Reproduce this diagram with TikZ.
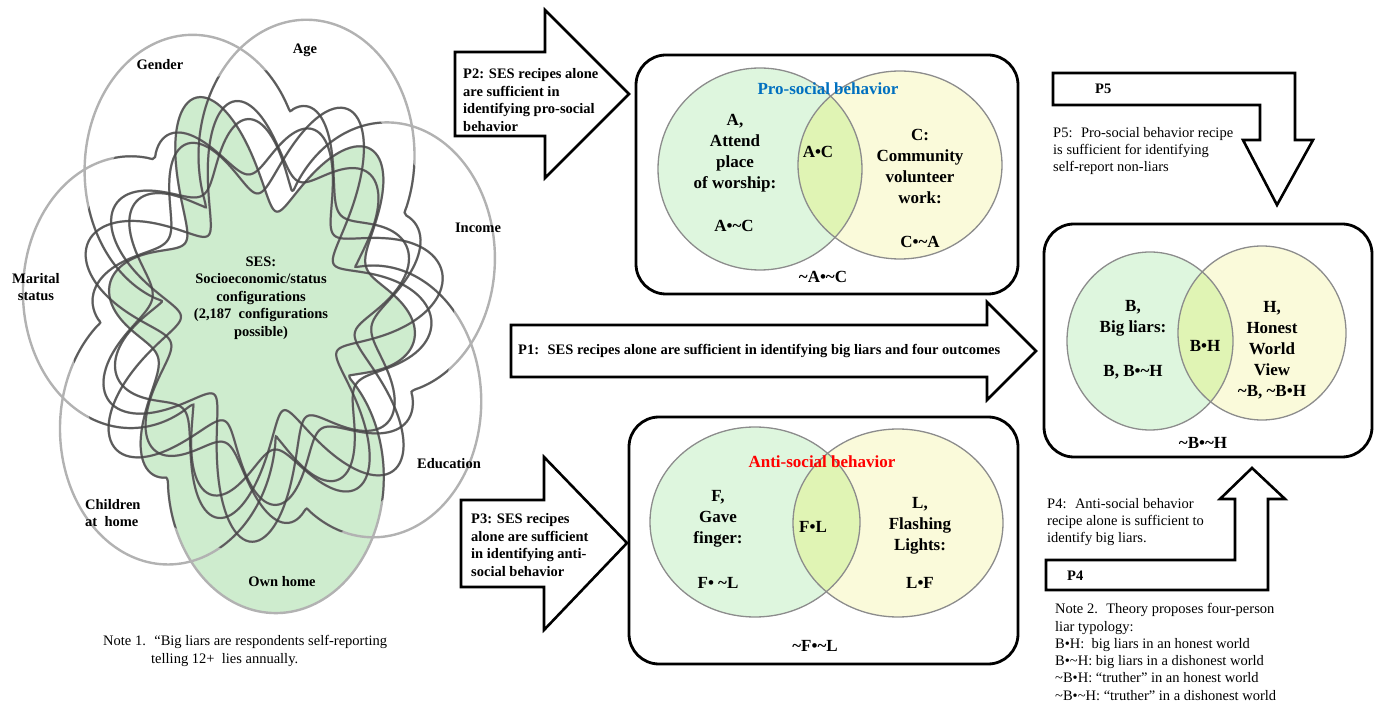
\documentclass[tikz,border=0pt]{standalone}
\usepackage{fontspec}
\setmainfont{Liberation Serif}
\usetikzlibrary{positioning}
\newcommand{\tld}{\textasciitilde}
\definecolor{sesgreen}{RGB}{206,236,206}
\definecolor{vgreen}{RGB}{222,246,222}
\definecolor{vyellow}{RGB}{250,250,218}
\definecolor{vmix}{RGB}{224,244,180}
\definecolor{problue}{RGB}{0,112,192}

\begin{document}
\begin{tikzpicture}[x=1pt, y=-1pt,
  declare function={
    dd(\p,\q)=mod(\p-\q+900,360)-180;
    lobe(\p,\q)=(abs(dd(\p,\q))<55)*(0.55*cos(dd(\p,\q))+sqrt(max(0,0.2025-0.3025*sin(dd(\p,\q))^2)));
    ring(\p,\q)=0.55+0.15*sin(6*dd(\p,\q))+0.07*sin(4*dd(\p,\q));
    vr(\p,\q)=max(ring(\p,\q),lobe(\p,\q));
  },
  lbl/.style={font=\fontsize{14.5}{17.5}\selectfont\bfseries, align=center, inner sep=0pt},
  vlbl/.style={font=\fontsize{17}{21}\selectfont\bfseries, align=center, inner sep=0pt},
  txt/.style={font=\fontsize{14.5}{17.3}\selectfont, align=left, inner sep=0pt, anchor=west},
  blk/.style={draw=black, line width=2.6pt, fill=white, line join=miter},
  panel/.style={draw=black, line width=2.8pt, rounded corners=30pt},
  vline/.style={draw=black!45, line width=1.3pt},
  lobeline/.style={draw=black!30, line width=2.4pt},
  knotline/.style={draw=black!75, line width=2pt, draw opacity=0.75}]
\useasboundingbox (0,0) rectangle (1377,708);

% seven-set SES diagram
\begin{scope}[shift={(262,312)}, x=240pt, y=302pt]
\fill[sesgreen] plot[variable=\t, domain=0:359, samples=360, smooth cycle] ({vr(\t,-84)*cos(\t)}, {vr(\t,-84)*sin(\t)});
\foreach \k in {0,...,6}
  \draw[lobeline] plot[variable=\t, domain=0:359, samples=360, smooth cycle] ({vr(\t,-84+51.43*\k)*cos(\t)}, {vr(\t,-84+51.43*\k)*sin(\t)});
\begin{scope}
\clip (0,0) circle (0.8);
\foreach \k in {0,...,6}
  \draw[knotline] plot[variable=\t, domain=0:359, samples=360, smooth cycle] ({vr(\t,-84+51.43*\k)*cos(\t)}, {vr(\t,-84+51.43*\k)*sin(\t)});
\end{scope}
\end{scope}

\node[lbl] (gender) at (160,65) {Gender};
\node[lbl] (age) at (305,50) {Age};
\node[lbl] (income) at (478,228) {Income};
\node[lbl] (marital) at (36,287) {Marital\\status};
\node[lbl] (educ) at (449,464) {Education};
\node[lbl, align=left, anchor=west] (children) at (85,513) {Children\\at~ home};
\node[lbl] (ownhome) at (282,582) {Own home};
\node[lbl] (ses) at (261,298) {SES:\\Socioeconomic/status\\configurations\\(2,187~ configurations\\possible)};
\node[txt] (note1) at (103,651) {Note 1.~ “Big liars are respondents self-reporting\\\hspace*{48pt}telling 12+~ lies annually.};

% block arrows
\draw[blk] (455,52) -- (545,52) -- (545,10) -- (629,94) -- (545,178) -- (545,136) -- (455,136) -- cycle;
\node[lbl, align=left, anchor=west] (p2) at (463,100) {P2: SES recipes alone\\are sufficient in\\identifying pro-social\\behavior};
\draw[blk] (511,325) -- (987,325) -- (987,302) -- (1036,351) -- (987,400) -- (987,377) -- (511,377) -- cycle;
\node[lbl, anchor=west] (p1) at (518,351) {P1:~ SES recipes alone are sufficient in identifying big liars and four outcomes};
\draw[blk] (461,500) -- (544,500) -- (544,457) -- (627,543) -- (544,630) -- (544,587) -- (461,587) -- cycle;
\node[lbl, align=left, anchor=west] (p3) at (471,545) {P3: SES recipes\\alone are sufficient\\in identifying anti-\\social behavior};
\draw[blk] (1053,73) -- (1295,73) -- (1295,140) -- (1313,140) -- (1277,205) -- (1243,140) -- (1260,140) -- (1260,105) -- (1053,105) -- cycle;
\node[lbl, anchor=west] (p5) at (1095,89) {P5};
\node[txt] (p5txt) at (1053,151) {P5:~ Pro-social behavior recipe\\is sufficient for identifying\\self-report non-liars};
\draw[blk] (1252,468) -- (1285,499) -- (1268,499) -- (1268,590) -- (1046,590) -- (1046,560) -- (1235,560) -- (1235,499) -- (1220,499) -- cycle;
\node[lbl, anchor=west] (p4) at (1067,576) {P4};
\node[txt] (p4txt) at (1047,522) {P4:~ Anti-social behavior\\recipe alone is sufficient to\\identify big liars.};
\node[txt] (note2) at (1055,652) {Note 2.~ Theory proposes four-person\\liar typology:\\B•H:~ big liars in an honest world\\B•\tld H: big liars in a dishonest world\\\tld B•H: “truther” in an honest world\\\tld B•\tld H: “truther” in a dishonest world};

% pro-social panel
\fill[vgreen] (760,169) ellipse [x radius=102, y radius=101];
\fill[vyellow] (900,165) ellipse [x radius=102, y radius=94];
\begin{scope}
\clip (760,169) ellipse [x radius=102, y radius=101];
\fill[vmix] (900,165) ellipse [x radius=102, y radius=94];
\end{scope}
\draw[vline] (760,169) ellipse [x radius=102, y radius=101];
\draw[vline] (900,165) ellipse [x radius=102, y radius=94];
\draw[panel] (636,55) rectangle (1018,294);
\node[vlbl, text=problue] (protitle) at (828,89) {Pro-social behavior};
\node[vlbl] (aset) at (735,153) {A,\\Attend\\place\\of worship:};
\node[vlbl] (anc) at (734,226) {A•\tld C};
\node[vlbl] (ac) at (818,152) {A•C};
\node[vlbl] (cset) at (920,166) {C:\\Community\\volunteer\\work:};
\node[vlbl] (cna) at (920,242) {C•\tld A};
\node[vlbl] (nanc) at (823,277) {\tld A•\tld C};

% anti-social panel
\fill[vgreen] (755,522) ellipse [x radius=105, y radius=95];
\fill[vyellow] (898,523) ellipse [x radius=105, y radius=94];
\begin{scope}
\clip (755,522) ellipse [x radius=105, y radius=95];
\fill[vmix] (898,523) ellipse [x radius=105, y radius=94];
\end{scope}
\draw[vline] (755,522) ellipse [x radius=105, y radius=95];
\draw[vline] (898,523) ellipse [x radius=105, y radius=94];
\draw[panel] (629,417) rectangle (1018,664);
\node[vlbl, text=red] (antititle) at (822,462) {Anti-social behavior};
\node[vlbl] (fset) at (718,519) {F,\\Gave\\finger:};
\node[vlbl] (fnl) at (718,583) {F• \tld L};
\node[vlbl] (fl) at (813,527) {F•L};
\node[vlbl] (lset) at (920,526) {L,\\Flashing\\Lights:};
\node[vlbl] (lf) at (920,583) {L•F};
\node[vlbl] (nfnl) at (815,646) {\tld F•\tld L};

% big liars panel
\fill[vgreen] (1150,341) ellipse [x radius=83, y radius=89];
\fill[vyellow] (1262,333) ellipse [x radius=84, y radius=87];
\begin{scope}
\clip (1150,341) ellipse [x radius=83, y radius=89];
\fill[vmix] (1262,333) ellipse [x radius=84, y radius=87];
\end{scope}
\draw[vline] (1150,341) ellipse [x radius=83, y radius=89];
\draw[vline] (1262,333) ellipse [x radius=84, y radius=87];
\draw[panel] (1044,224) rectangle (1372,457);
\node[vlbl] (bset) at (1133,318) {B,\\Big liars:};
\node[vlbl] (bnh) at (1133,372) {B, B•\tld H};
\node[vlbl] (bh) at (1205,346) {B•H};
\node[vlbl] (hset) at (1272,350) {H,\\Honest\\World\\View\\\tld B, \tld B•H};
\node[vlbl] (nbnh) at (1203,443) {\tld B•\tld H};
\end{tikzpicture}
\end{document}
